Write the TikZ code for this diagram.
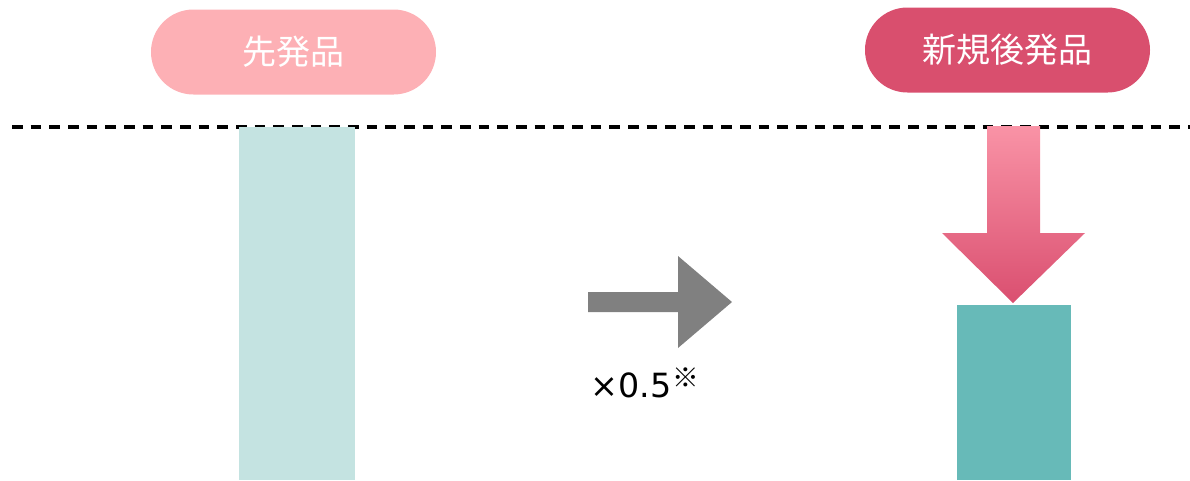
\documentclass[tikz,border=0pt]{standalone}
\usepackage{fontspec}
\newfontfamily\jpfont{Noto Sans CJK JP}
\newfontfamily\numfont{DejaVu Sans}
\definecolor{pillLight}{HTML}{FDB0B5}
\definecolor{pillDark}{HTML}{D94F6E}
\definecolor{barLight}{HTML}{C4E3E1}
\definecolor{barDark}{HTML}{67BAB8}
\definecolor{arrowGray}{HTML}{808080}
\definecolor{arrowTop}{HTML}{F993A6}
\definecolor{arrowBottom}{HTML}{DA4F70}
\tikzset{
  pill/.style={rounded corners=31.8pt, minimum width=213.75pt, minimum height=63.75pt,
    inner sep=0pt, text=white, font=\jpfont\fontsize{25.5pt}{30pt}\selectfont},
  guide/.style={line width=2.6pt, dash pattern=on 8pt off 6pt}
}
\begin{document}
\begin{tikzpicture}[x=0.75pt, y=-0.75pt]
  \useasboundingbox (0,0) rectangle (1190,480);
  % baseline guide
  \coordinate (gl) at (12,127);
  \coordinate (gr) at (1190,127);
  \draw[guide] (gl) -- (gr);
  % bars
  \fill[barLight] (239,127) rectangle (355,480);
  \fill[barDark] (957,305) rectangle (1071,480);
  % labels
  \node[pill, fill=pillLight] (old) at (293.5,52) {先発品};
  \node[pill, fill=pillDark] (new) at (1007.5,50) {新規後発品};
  % horizontal arrow
  \fill[arrowGray] (588,292) -- (678,292) -- (678,256) -- (732,302)
    -- (678,348) -- (678,312) -- (588,312) -- cycle;
  \node[anchor=base west, inner sep=0pt, font=\numfont\fontsize{25pt}{30pt}\selectfont]
    (factor) at (590,397) {×0.5\hspace{1pt}\raisebox{7pt}{\jpfont\fontsize{20pt}{24pt}\selectfont ※}};
  % down arrow
  \shade[top color=arrowTop, bottom color=arrowBottom]
    (987,126) -- (1040,126) -- (1040,233) -- (1085,233) -- (1013,303)
    -- (942,233) -- (987,233) -- cycle;
\end{tikzpicture}
\end{document}
